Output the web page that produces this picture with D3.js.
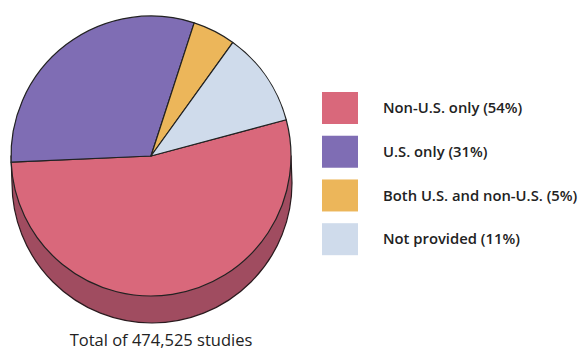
<!DOCTYPE html>
<html>
<head>
<meta charset="utf-8">
<script src="https://cdn.jsdelivr.net/npm/d3@7"></script>
<style>
  body { margin: 0; background: #fff; }
  text { font-family: "Open Sans", sans-serif; fill: #222; }
</style>
</head>
<body>
<script>
const width = 582;
const height = 350;

const categories = ['Non-U.S. only', 'U.S. only', 'Both U.S. and non-U.S.', 'Not provided'];
const values = [54, 31, 5, 11];
const colors = ['#d9687b', '#7f6db4', '#ecb65a', '#cfdbeb'];
const total = '474,525';

const cx = 151, cy = 156, r = 140, depth = 27;

const svg = d3.select('body').append('svg')
  .attr('width', width)
  .attr('height', height);

const data = categories.map((c, i) => ({name: c, value: values[i], color: colors[i]}));

const pie = d3.pie()
  .sort(null)
  .value(d => d.value)
  .startAngle(75 * Math.PI / 180)
  .endAngle(75 * Math.PI / 180 + 2 * Math.PI);

const arc = d3.arc().innerRadius(0).outerRadius(r);

// side of the pie (only the red slice shows underneath)
const side = d3.path();
side.moveTo(cx - r, cy);
side.lineTo(cx - r + 1, cy + depth);
side.arc(cx + 1, cy + depth, r, Math.PI, 0, true);
side.lineTo(cx + r, cy);
side.closePath();

svg.append('path')
  .attr('d', side.toString())
  .attr('fill', '#a04c60')
  .attr('stroke', '#2a1a1e')
  .attr('stroke-width', 1.2);

const g = svg.append('g').attr('transform', `translate(${cx},${cy})`);

g.selectAll('path')
  .data(pie(data))
  .join('path')
  .attr('d', arc)
  .attr('fill', d => d.data.color)
  .attr('stroke', '#222')
  .attr('stroke-width', 1.2)
  .attr('stroke-linejoin', 'round');

// legend
const y = d3.scaleBand()
  .domain(categories)
  .range([92, 256])
  .paddingInner(0.25)
  .paddingOuter(0);

const legend = svg.append('g');

legend.selectAll('rect')
  .data(data)
  .join('rect')
  .attr('x', 322)
  .attr('y', d => y(d.name))
  .attr('width', 36)
  .attr('height', 32)
  .attr('fill', d => d.color);

legend.selectAll('text')
  .data(data)
  .join('text')
  .attr('x', 383)
  .attr('y', d => y(d.name) + 16)
  .attr('dy', '0.35em')
  .style('font-size', '14.8px')
  .style('font-weight', 600)
  .text(d => `${d.name} (${d.value}%)`);

svg.append('text')
  .attr('x', 161)
  .attr('y', 346)
  .attr('text-anchor', 'middle')
  .style('font-size', '16.5px')
  .text(`Total of ${total} studies`);

svg.node();
</script>
</body>
</html>
